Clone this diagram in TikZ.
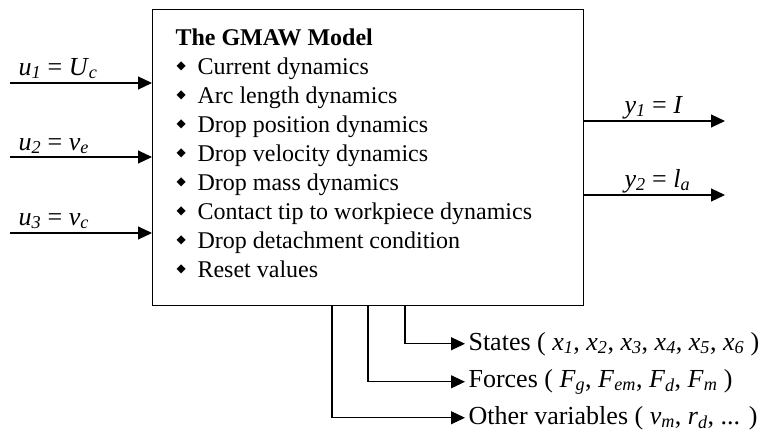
\documentclass[tikz,border=0pt]{standalone}
\usepackage{fontspec}
\setmainfont{Liberation Serif}
\newfontfamily\dejavu{DejaVu Sans}
\usetikzlibrary{arrows.meta}
\newcommand{\iv}[2]{\textit{#1}\textsubscript{\itshape #2}}
\newcommand{\bul}{\makebox[21pt][l]{\raisebox{0.17em}{\dejavu\fontsize{12}{12}\selectfont ◆}}}
\begin{document}
\begin{tikzpicture}[x=1pt,y=-1pt,
  font=\fontsize{24}{29}\selectfont,
  line width=1.1pt,
  conn/.style={-{Triangle[length=14pt,width=13pt]}},
  lbl/.style={inner sep=0pt, anchor=base west},
  iolbl/.style={inner sep=0pt, anchor=base west, font=\fontsize{26}{30}\selectfont},
  rlbl/.style={inner sep=0pt, inner xsep=3pt, anchor=base west, font=\fontsize{26}{30}\selectfont}]
\useasboundingbox (0,0) rectangle (764,432);
\node[draw, minimum width=431pt, minimum height=296pt, anchor=north west, inner sep=0pt] (box) at (152,9) {};
% text in box
\node[lbl, font=\fontsize{24}{29}\selectfont\bfseries] (title) at (175,45) {The GMAW Model};
\node[lbl] (l1) at (176,74) {\bul Current dynamics};
\node[lbl] (l2) at (176,103) {\bul Arc length dynamics};
\node[lbl] (l3) at (176,132) {\bul Drop position dynamics};
\node[lbl] (l4) at (176,161) {\bul Drop velocity dynamics};
\node[lbl] (l5) at (176,190) {\bul Drop mass dynamics};
\node[lbl] (l6) at (176,219) {\bul Contact tip to workpiece dynamics};
\node[lbl] (l7) at (176,248) {\bul Drop detachment condition};
\node[lbl] (l8) at (176,277) {\bul Reset values};
% inputs
\coordinate (i1) at (10,83);
\coordinate (i2) at (10,157);
\coordinate (i3) at (10,233);
\draw[conn] (i1) -- (i1 -| box.west);
\draw[conn] (i2) -- (i2 -| box.west);
\draw[conn] (i3) -- (i3 -| box.west);
\node[iolbl] (u1) at (18,75) {\iv{u}{1} = \iv{U}{c}};
\node[iolbl] (u2) at (18,150) {\iv{u}{2} = \iv{v}{e}};
\node[iolbl] (u3) at (18,225) {\iv{u}{3} = \iv{v}{c}};
% outputs
\coordinate (o1) at (725,121);
\coordinate (o2) at (725,195);
\draw[conn] (o1 -| box.east) -- (o1);
\draw[conn] (o2 -| box.east) -- (o2);
\node[iolbl] (y1) at (624,113) {\iv{y}{1} = \textit{I}};
\node[iolbl] (y2) at (624,187) {\iv{y}{2} = \iv{l}{a}};
% bottom outputs
\node[rlbl] (st) at (465,350) {States ( \iv{x}{1}, \iv{x}{2}, \iv{x}{3}, \iv{x}{4}, \iv{x}{5}, \iv{x}{6} )};
\node[rlbl] (fo) at (465,387) {Forces ( \iv{F}{g}, \iv{F}{em}, \iv{F}{d}, \iv{F}{m} )};
\node[rlbl] (ot) at (465,424) {Other variables ( \iv{v}{m}, \iv{r}{d}, ... )};
\coordinate (b1) at (405,305);
\coordinate (b2) at (368,305);
\coordinate (b3) at (332,305);
\draw[conn] (b1) |- (st.west);
\draw[conn] (b2) |- (fo.west);
\draw[conn] (b3) |- (ot.west);
\end{tikzpicture}
\end{document}
